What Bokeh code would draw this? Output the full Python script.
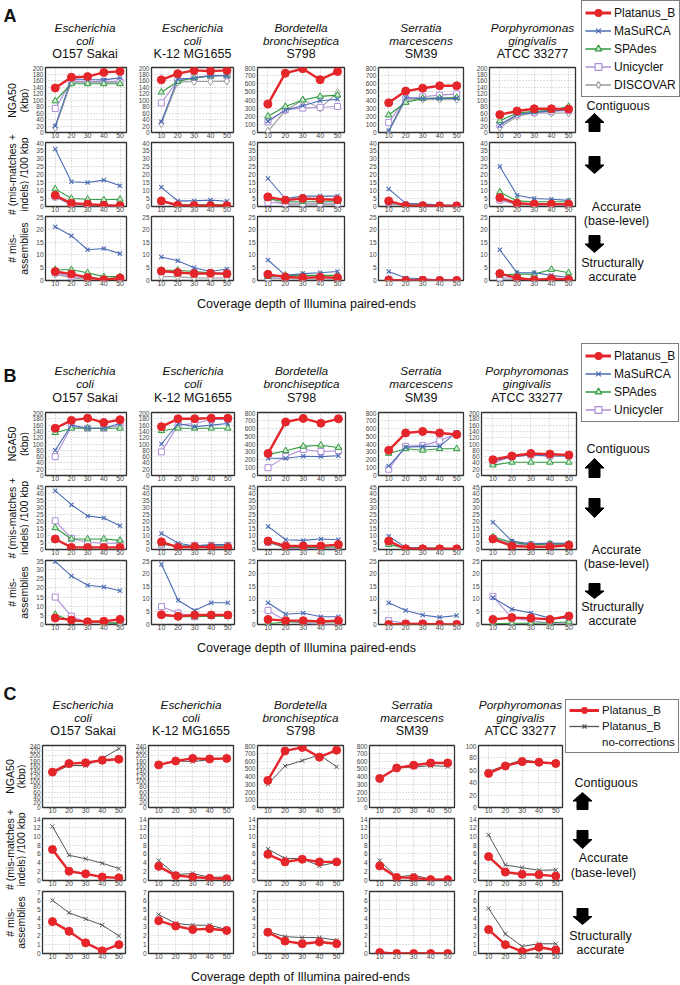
import numpy as np
from bokeh.plotting import figure
from bokeh.layouts import row, column
from bokeh.models import Range1d, FixedTicker, ColumnDataSource, Legend, LegendItem
from bokeh.core.properties import value
from bokeh.embed import file_html
from bokeh.resources import INLINE

FONT = "Liberation Sans"

# ---------------------------------------------------------------- data
COVERAGE = [10, 20, 30, 40, 50]
ORGANISMS = [["Escherichia", "coli", "O157 Sakai"],
             ["Escherichia", "coli", "K-12 MG1655"],
             ["Bordetella", "bronchiseptica", "S798"],
             ["Serratia", "marcescens", "SM39"],
             ["Porphyromonas", "gingivalis", "ATCC 33277"]]
ROW_LABELS = [["NGA50", "(kbp)"], ["# (mis-matches +", "indels) /100 kbp"], ["# mis-", "assemblies"]]
XLABEL = "Coverage depth of Illumina paired-ends"
NOCORR = "Platanus_B no-corrections"
LEGEND_AB = [("Platanus_B", "Platanus_B"), ("MaSuRCA", "MaSuRCA"), ("SPAdes", "SPAdes"),
             ("Unicycler", "Unicycler"), ("DISCOVAR", "DISCOVAR")]
LEGEND_C = [("Platanus_B", "Platanus_B"), ("Platanus_B", NOCORR), ("no-corrections", None)]

# Panel A (one list per organism, values at coverage 10..50)
A_NGA50_PLATANUS = [[137, 170, 172, 185, 188], [162, 181, 191, 189, 191], [350, 730, 785, 650, 750], [365, 510, 545, 575, 575], [55, 66, 73, 73, 72]]
A_NGA50_MASURCA = [[20, 165, 163, 162, 168], [33, 165, 167, 175, 175], [140, 275, 330, 390, 410], [20, 430, 415, 420, 420], [22, 55, 62, 66, 70]]
A_NGA50_SPADES = [[97, 150, 150, 150, 150], [124, 157, 168, 174, 176], [200, 320, 400, 445, 460], [215, 370, 420, 425, 430], [36, 60, 65, 68, 80]]
A_NGA50_UNICYCLER = [[74, 158, 157, 157, 157], [91, 160, 170, 175, 175], [130, 280, 300, 310, 320], [125, 415, 440, 460, 475], [25, 55, 62, 65, 68]]
A_NGA50_DISCOVAR = [[15, 155, 155, 155, 155], [27, 155, 157, 157, 158], [15, 270, 400, 300, 490], [8, 400, 410, 410, 410], [15, 50, 60, 60, 60]]

A_MIS_PLATANUS = [[7, 2, 1.5, 0.8, 0.5], [3.5, 0.8, 0.6, 0.5, 0.5], [6, 4, 5, 4.5, 4.2], [3.5, 0.5, 0.5, 0.4, 0.4], [5.5, 2, 1.5, 1.5, 1.5]]
A_MIS_MASURCA = [[36, 15.5, 15, 16.5, 13], [12, 3.5, 3.5, 4, 3.3], [17.5, 5, 6.5, 6.5, 6.5], [11, 2, 1.5, 1, 0.8], [25, 7, 5, 4.5, 3.8]]
A_MIS_SPADES = [[11, 5, 4.5, 4.2, 4.5], [3.5, 1, 1, 1, 1], [5, 3, 3, 3, 3], [3, 1, 1, 0.5, 0.5], [9, 3.5, 3, 3, 3]]
A_MIS_UNICYCLER = [[6, 1.5, 1, 0.5, 0.5], [3, 0.5, 0.5, 0.5, 0.5], [2.5, 2, 2, 2, 2], [2.5, 0.5, 0.5, 0.5, 0.5], [4, 1.5, 1, 1, 1]]
A_MIS_DISCOVAR = [[6, 1, 0.5, 0.3, 0.3], [3.5, 1, 1, 1, 0.8], [5.5, 1, 1, 1, 1], [1.5, 0.5, 0.3, 0.3, 0.3], [4.5, 1, 1, 1, 1]]

A_ASM_PLATANUS = [[3.5, 2.5, 1.2, 0.3, 1], [3.7, 3.1, 2.7, 2.8, 2.6], [2.4, 1.4, 1.1, 1.3, 1.1], [0.1, 0, 0.1, 0, 0], [2.7, 1, 0.2, 0.7, 0.4]]
A_ASM_MASURCA = [[21, 17.5, 12, 12.5, 10.5], [9.2, 7.7, 5, 3.5, 4.5], [8, 2, 2.7, 3, 3.5], [3.5, 1, 0.7, 0.2, 0.2], [12, 3, 3, 2, 1.2]]
A_ASM_SPADES = [[4.2, 4.2, 3, 1.5, 1.5], [4, 4, 3.5, 3, 2.5], [1.5, 2, 2, 2, 2], [0.5, 0.3, 0.2, 0.2, 0.2], [2, 2.5, 2.5, 4.3, 3]]
A_ASM_UNICYCLER = [[3, 1.5, 1, 0.5, 0.5], [3.5, 3, 3, 3, 3], [1, 1, 1, 1, 1], [0.5, 0.3, 0.3, 0.2, 0.2], [1, 1, 0.5, 0.5, 0.5]]
A_ASM_DISCOVAR = [[2.5, 1, 0.5, 0.5, 0.5], [1.5, 1.5, 1, 1, 1], [1, 0.8, 0.5, 0.5, 0.5], [0.2, 0.2, 0.1, 0.1, 0.1], [0.5, 0.5, 0.5, 0.5, 0.5]]

# Panel B
B_NGA50_PLATANUS = [[150, 175, 182, 168, 177], [155, 180, 180, 182, 182], [280, 680, 725, 665, 720], [320, 540, 560, 540, 520], [50, 62, 70, 68, 65]]
B_NGA50_MASURCA = [[80, 160, 150, 150, 165], [100, 165, 155, 160, 165], [220, 220, 245, 240, 250], [120, 360, 370, 370, 550], [45, 60, 65, 62, 62]]
B_NGA50_SPADES = [[136, 150, 150, 150, 150], [142, 150, 150, 150, 150], [265, 315, 370, 385, 355], [280, 340, 320, 340, 340], [33, 42, 42, 42, 42]]
B_NGA50_UNICYCLER = [[60, 155, 150, 150, 158], [75, 160, 165, 178, 178], [100, 240, 330, 305, 315], [80, 370, 380, 440, 530], [40, 60, 65, 62, 62]]

B_MIS_PLATANUS = [[7.5, 1.5, 1.5, 1.5, 1.5], [5.5, 1.5, 2, 1.5, 1.5], [6, 2.5, 2.5, 2.5, 3.5], [6, 0.5, 0.5, 0.5, 0.5], [7.5, 2.5, 2, 2, 3]]
B_MIS_MASURCA = [[42, 32, 24, 22.5, 17], [11.5, 4.5, 2.5, 3.5, 3.5], [16.5, 7, 6.5, 7.5, 7], [9.5, 1.5, 1, 1, 0.5], [19.5, 6, 4, 4.5, 4.5]]
B_MIS_SPADES = [[15.5, 7.5, 7.5, 7.5, 6.5], [4, 2.5, 2.5, 2.5, 2.5], [5.5, 1.5, 1.5, 1.5, 2], [3.5, 1, 1, 0.5, 0.5], [9, 5, 3.5, 4, 4]]
B_MIS_UNICYCLER = [[20.5, 8, 5, 4.5, 4.5], [3.5, 2.5, 3, 3, 3], [5, 1, 0.5, 1, 1], [5.5, 0.5, 0.5, 0.5, 0.5], [8, 4, 3.5, 3.5, 3.5]]

B_ASM_PLATANUS = [[3.5, 2.5, 1.5, 1.8, 2.8], [3.8, 3.2, 3.7, 3.7, 3.7], [2, 1.5, 1.5, 1.2, 1.5], [0, 0.2, 0.2, 0, 0], [2, 2.7, 2.5, 2, 3.3]]
B_ASM_MASURCA = [[34.5, 26.5, 21.5, 20.5, 18.5], [23.5, 9.5, 5.5, 8.5, 8.5], [8.5, 4, 4.5, 3, 3], [8.5, 5.5, 3.7, 2.8, 3.5], [10.5, 6, 4.5, 2.5, 2.5]]
B_ASM_SPADES = [[5.5, 2, 1.5, 1, 0.5], [3.5, 3, 3, 3.2, 3.2], [0.3, 1, 1, 1, 1], [0, 0, 0, 0, 0], [0.3, 0.5, 0.5, 0.7, 1]]
B_ASM_UNICYCLER = [[15, 4.5, 1, 1, 1], [7, 4.5, 3, 3.5, 3.5], [5.5, 1.5, 0.5, 0, 0], [1.5, 0.5, 0.5, 0.2, 0.2], [11, 2.5, 1.5, 0.5, 0.5]]

# Panel C
C_NGA50_PLATANUS = [[137, 170, 173, 183, 187], [165, 180, 190, 188, 190], [350, 730, 775, 650, 740], [375, 510, 545, 575, 575], [55, 67, 74, 73, 71]]
C_NGA50_NOCORR = [[133, 163, 162, 190, 228], [165, 180, 178, 185, 190], [300, 535, 605, 680, 525], [375, 515, 520, 540, 530], [58, 68, 77, 73, 71]]
C_MIS_PLATANUS = [[7, 2.1, 1.5, 0.8, 0.6], [3.2, 1.1, 0.8, 0.5, 0.4], [5.9, 4.2, 4.8, 4.2, 4.2], [3.3, 0.7, 0.6, 0.2, 0.2], [5.4, 1.9, 1.4, 1.3, 1]]
C_MIS_NOCORR = [[12.2, 5.7, 4.9, 3.9, 2.7], [4.5, 1.3, 1.6, 0.7, 0.8], [7.1, 5, 4.9, 3.3, 4.1], [4.5, 0.8, 1.2, 0.3, 0.3], [10.3, 3.5, 2.9, 2.3, 2.4]]
C_ASM_PLATANUS = [[3.6, 2.5, 1.2, 0.3, 1], [3.7, 3.1, 2.7, 2.8, 2.6], [2.4, 1.4, 1.1, 1.3, 1.1], [0.1, 0, 0, 0, 0], [2.7, 1, 0.2, 0.7, 0.4]]
C_ASM_NOCORR = [[6, 4.6, 3.9, 3.2, 2], [4.4, 3.4, 3.2, 3.2, 2.7], [2.5, 1.9, 1.8, 1.8, 1.5], [0.2, 0, 0.1, 0, 0], [5.1, 2.2, 0.8, 1.1, 1.1]]

# axis extents / tick steps (rows x organisms)
A_YMAX = [[200, 200, 800, 800, 200], [40, 40, 40, 40, 40], [25, 25, 25, 25, 25]]
A_YSTEP = [[20, 20, 100, 100, 20], [5, 5, 5, 5, 5], [5, 5, 5, 5, 5]]
B_YMAX = [[200, 200, 800, 800, 200], [45, 45, 45, 45, 45], [35, 25, 25, 25, 25]]
B_YSTEP = [[20, 20, 100, 100, 20], [5, 5, 5, 5, 5], [5, 5, 5, 5, 5]]
C_YMAX = [[240, 240, 800, 800, 100], [14, 14, 14, 14, 14], [7, 7, 7, 7, 7]]
C_YSTEP = [[20, 20, 100, 100, 20], [2, 2, 2, 2, 2], [1, 1, 1, 1, 1]]

A_ROWS = [
    [("DISCOVAR", A_NGA50_DISCOVAR), ("Unicycler", A_NGA50_UNICYCLER), ("SPAdes", A_NGA50_SPADES), ("MaSuRCA", A_NGA50_MASURCA), ("Platanus_B", A_NGA50_PLATANUS)],
    [("DISCOVAR", A_MIS_DISCOVAR), ("Unicycler", A_MIS_UNICYCLER), ("SPAdes", A_MIS_SPADES), ("MaSuRCA", A_MIS_MASURCA), ("Platanus_B", A_MIS_PLATANUS)],
    [("DISCOVAR", A_ASM_DISCOVAR), ("Unicycler", A_ASM_UNICYCLER), ("SPAdes", A_ASM_SPADES), ("MaSuRCA", A_ASM_MASURCA), ("Platanus_B", A_ASM_PLATANUS)],
]
B_ROWS = [
    [("Unicycler", B_NGA50_UNICYCLER), ("SPAdes", B_NGA50_SPADES), ("MaSuRCA", B_NGA50_MASURCA), ("Platanus_B", B_NGA50_PLATANUS)],
    [("Unicycler", B_MIS_UNICYCLER), ("SPAdes", B_MIS_SPADES), ("MaSuRCA", B_MIS_MASURCA), ("Platanus_B", B_MIS_PLATANUS)],
    [("Unicycler", B_ASM_UNICYCLER), ("SPAdes", B_ASM_SPADES), ("MaSuRCA", B_ASM_MASURCA), ("Platanus_B", B_ASM_PLATANUS)],
]
C_ROWS = [
    [(NOCORR, C_NGA50_NOCORR), ("Platanus_B", C_NGA50_PLATANUS)],
    [(NOCORR, C_MIS_NOCORR), ("Platanus_B", C_MIS_PLATANUS)],
    [(NOCORR, C_ASM_NOCORR), ("Platanus_B", C_ASM_PLATANUS)],
]

# ---------------------------------------------------------------- styles
STYLE = {
    "Platanus_B": dict(color="#e4262b", lw=2.4, marker="circle", size=8, fill="#e4262b", mlw=1),
    "MaSuRCA": dict(color="#4a6bb3", lw=1.1, marker="x", size=6, fill="#4a6bb3", mlw=1.1),
    "SPAdes": dict(color="#2e9a3e", lw=1.1, marker="triangle", size=6.5, fill="#cde8cd", mlw=1),
    "Unicycler": dict(color="#ae8dd6", lw=1.1, marker="square", size=6, fill="white", mlw=1),
    "DISCOVAR": dict(color="#999999", lw=1.1, marker="diamond", size=8, fill="white", mlw=1),
    NOCORR: dict(color="#555555", lw=1.0, marker="x", size=6, fill="#555555", mlw=1),
}
LEG_STYLE = {
    "Platanus_B": dict(lw=3, size=12),
    "MaSuRCA": dict(lw=1.5, size=8),
    "SPAdes": dict(lw=1.5, size=8),
    "Unicycler": dict(lw=1.5, size=9),
    "DISCOVAR": dict(lw=1.5, size=10),
    NOCORR: dict(lw=1.3, size=8),
}

# ---------------------------------------------------------------- geometry (page px)
# legend spec: (left, top, estimated height, font size, glyph width, item height, spacing)
GEO_A = dict(top=0, header_h=65, fig_h=[75, 74, 77], bb=[7, 8, 11], bt=2, footer_h=21,
             bounds=[29, 129, 236, 347, 466, 578],
             frames=[(43, 126), (151, 233), (257, 344), (378, 463), (489, 575)],
             ylab_x=(11, 23), title_y=[27, 40, 53], xlabel=(306, 303), letter_y=15,
             legend=(581, 2, 95, "12px", 26, 17, 1), contig=(586, 105), up=(594, 113, 131),
             down1=(594, 156, 173), acc=(616, 206, 220), down2=(594, 235, 252), struct=(612, 262, 276))
GEO_B = dict(top=312, header_h=98, fig_h=[74, 74, 77], bb=[9, 9, 11], bt=2, footer_h=21,
             bounds=[29, 129, 237, 348, 465, 578],
             frames=[(43, 126), (151, 234), (257, 345), (378, 463), (477, 576)],
             ylab_x=(11, 23), title_y=[370, 383, 397], xlabel=(306, 647), letter_y=375,
             legend=(581, 345, 77, "12px", 26, 17, 1), contig=(586, 448), up=(594, 458, 477),
             down1=(594, 498, 517), acc=(616, 549, 563), down2=(594, 583, 598), struct=(612, 606, 620))
GEO_C = dict(top=656, header_h=87, fig_h=[73, 73, 75], bb=[9, 9, 11], bt=2, footer_h=21,
             bounds=[26, 128, 236, 346, 457, 564],
             frames=[(40, 125), (148, 233), (257, 343), (369, 454), (478, 562)],
             ylab_x=(9.5, 20.5), title_y=[704, 717, 730], xlabel=(300, 976), letter_y=693,
             legend=(565, 701, 52, "11.5px", 30, 14, 2), contig=(574, 782), up=(582, 792, 809),
             down1=(582, 830, 848), acc=(603, 857, 872), down2=(582, 908, 924), struct=(600, 935, 949))

PAGE_RIGHT = 680


class Strip:
    """A blank figure whose units are pixels, used for annotation texts."""

    def __init__(self, w, h, left, top):
        self.left, self.top, self.h = left, top, h
        self.p = figure(width=w, height=h, x_range=Range1d(0, w), y_range=Range1d(0, h),
                        x_axis_type=None, y_axis_type=None, output_backend="svg",
                        toolbar_location=None, min_border_left=0, min_border_right=0,
                        min_border_top=0, min_border_bottom=0)
        self.p.outline_line_color = None

    def X(self, px):
        return px - self.left

    def Y(self, py):
        return self.top + self.h - py

    def text(self, px, py, s, size="13px", style="normal", align="center", angle=0.0):
        self.p.text(x=[self.X(px)], y=[self.Y(py)], text=[s], text_font=value(FONT),
                    text_font_size=value(size), text_font_style=style, text_align=align,
                    text_baseline="middle", angle=angle, text_color="#111111")

    def arrow(self, cx, ytop, ybot, up, w=19, sw=11):
        mid = (ytop + ybot) / 2.0
        if up:
            pts = [(cx, ytop), (cx + w / 2, mid), (cx + sw / 2, mid), (cx + sw / 2, ybot),
                   (cx - sw / 2, ybot), (cx - sw / 2, mid), (cx - w / 2, mid)]
        else:
            pts = [(cx, ybot), (cx + w / 2, mid), (cx + sw / 2, mid), (cx + sw / 2, ytop),
                   (cx - sw / 2, ytop), (cx - sw / 2, mid), (cx - w / 2, mid)]
        self.p.patch(x=[self.X(a) for a, _ in pts], y=[self.Y(b) for _, b in pts],
                     fill_color="black", line_color="black")


def make_subplot(w, h, bl, br, bt, bb, ymax, ystep, series):
    p = figure(width=w, height=h, x_range=Range1d(4, 54), y_range=Range1d(0, ymax),
               output_backend="svg", toolbar_location=None,
               min_border_left=bl, min_border_right=br, min_border_top=bt, min_border_bottom=bb)
    p.xaxis.ticker = FixedTicker(ticks=COVERAGE)
    p.yaxis.ticker = FixedTicker(ticks=list(range(0, ymax + 1, ystep)))
    for ax in (p.xaxis[0], p.yaxis[0]):
        ax.axis_line_color = None
        ax.major_tick_line_color = None
        ax.minor_tick_line_color = None
        ax.major_tick_out = 0
        ax.major_tick_in = 0
        ax.major_label_text_font = FONT
        ax.major_label_text_color = "#444444"
    p.xaxis.major_label_text_font_size = "7px"
    p.yaxis.major_label_text_font_size = "6.5px"
    p.xaxis.major_label_standoff = 0
    p.yaxis.major_label_standoff = 2
    p.grid.grid_line_color = "#b0b0b0"
    p.grid.grid_line_dash = "1 2"
    p.grid.grid_line_width = 0.8
    p.outline_line_color = "#333333"
    p.outline_line_width = 1.3
    for name, vals in series:
        st = STYLE[name]
        src = ColumnDataSource(data=dict(x=COVERAGE, y=vals))
        p.line(x="x", y="y", source=src, line_color=st["color"], line_width=st["lw"])
        p.scatter(x="x", y="y", source=src, marker=st["marker"], size=st["size"],
                  line_color=st["color"], fill_color=st["fill"], line_width=st["mlw"])
    return p


def add_legend(strip, entries, spec):
    left_px, top_px, est_h, fs, gw, ih, sp = spec
    items = []
    for label, key in entries:
        # legend-only renderers: their points lie outside the visible range
        src = ColumnDataSource(data=dict(x=[-500, -490], y=[-500, -500]))
        if key is None:
            lr = strip.p.line(x="x", y="y", source=src, line_alpha=0)
            items.append(LegendItem(label=label, renderers=[lr]))
            continue
        st, ls = STYLE[key], LEG_STYLE[key]
        lr = strip.p.line(x="x", y="y", source=src, line_color=st["color"], line_width=ls["lw"])
        sr = strip.p.scatter(x="x", y="y", source=src, marker=st["marker"], size=ls["size"],
                             line_color=st["color"], fill_color=st["fill"], line_width=1.2)
        items.append(LegendItem(label=label, renderers=[lr, sr]))
    leg = Legend(items=items, location=(strip.X(left_px), strip.Y(top_px + est_h)),
                 label_text_font=FONT, label_text_font_size=fs, label_text_color="#111111",
                 glyph_width=gw, glyph_height=ih, label_height=ih, label_standoff=3,
                 spacing=sp, padding=3, margin=0,
                 border_line_color="black", border_line_width=1.5,
                 background_fill_color="white", background_fill_alpha=1.0)
    strip.p.add_layout(leg)


def build_panel(geo, letter, rows_data, ymaxs, ysteps, legend_entries):
    top = geo["top"]
    b, fr = geo["bounds"], geo["frames"]
    bt = geo["bt"]
    panel_h = geo["header_h"] + sum(geo["fig_h"]) + geo["footer_h"]

    left = Strip(b[0], panel_h, 0, top)
    left.text(3, geo["letter_y"], letter, size="18px", style="bold", align="left")
    y = top + geo["header_h"]
    for r in range(3):
        ft = y + bt
        fb = y + geo["fig_h"][r] - geo["bb"][r]
        cy = (ft + fb) / 2.0
        l1, l2 = ROW_LABELS[r]
        left.text(geo["ylab_x"][0], cy, l1, size="10.5px", angle=np.pi / 2)
        left.text(geo["ylab_x"][1], cy, l2, size="10.5px", angle=np.pi / 2)
        y += geo["fig_h"][r]

    mid_w = b[-1] - b[0]
    header = Strip(mid_w, geo["header_h"], b[0], top)
    for i in range(5):
        cx = (fr[i][0] + fr[i][1]) / 2.0
        g, s, strain = ORGANISMS[i]
        header.text(cx, geo["title_y"][0], g, size="11.8px", style="italic")
        header.text(cx, geo["title_y"][1], s, size="11.8px", style="italic")
        header.text(cx, geo["title_y"][2], strain, size="12.5px")

    cols = []
    for i in range(5):
        figs = []
        for r in range(3):
            w = b[i + 1] - b[i]
            figs.append(make_subplot(w, geo["fig_h"][r], fr[i][0] - b[i], b[i + 1] - fr[i][1],
                                     bt, geo["bb"][r], ymaxs[r][i], ysteps[r][i],
                                     [(n, d[i]) for n, d in rows_data[r]]))
        cols.append(column(figs, spacing=0))
    grid = row(cols, spacing=0)

    foot_top = top + geo["header_h"] + sum(geo["fig_h"])
    footer = Strip(mid_w, geo["footer_h"], b[0], foot_top)
    footer.text(geo["xlabel"][0], geo["xlabel"][1], XLABEL, size="12.5px")
    mid = column([header.p, grid, footer.p], spacing=0)

    right = Strip(PAGE_RIGHT - b[-1], panel_h, b[-1], top)
    add_legend(right, legend_entries, geo["legend"])
    right.text(geo["contig"][0], geo["contig"][1], "Contiguous", size="12.5px", align="left")
    right.arrow(geo["up"][0], geo["up"][1], geo["up"][2], True)
    right.arrow(geo["down1"][0], geo["down1"][1], geo["down1"][2], False)
    right.text(geo["acc"][0], geo["acc"][1], "Accurate", size="12.5px")
    right.text(geo["acc"][0], geo["acc"][2], "(base-level)", size="12.5px")
    right.arrow(geo["down2"][0], geo["down2"][1], geo["down2"][2], False)
    right.text(geo["struct"][0], geo["struct"][1], "Structurally", size="12.5px")
    right.text(geo["struct"][0], geo["struct"][2], "accurate", size="12.5px")

    return row([left.p, mid, right.p], spacing=0)


panel_a = build_panel(GEO_A, "A", A_ROWS, A_YMAX, A_YSTEP, LEGEND_AB)
panel_b = build_panel(GEO_B, "B", B_ROWS, B_YMAX, B_YSTEP, LEGEND_AB[:4])
panel_c = build_panel(GEO_C, "C", C_ROWS, C_YMAX, C_YSTEP, LEGEND_C)
page = column([panel_a, panel_b, panel_c], spacing=0)

open("out.html", "w").write(file_html(page, INLINE, title="Assembler comparison"))
